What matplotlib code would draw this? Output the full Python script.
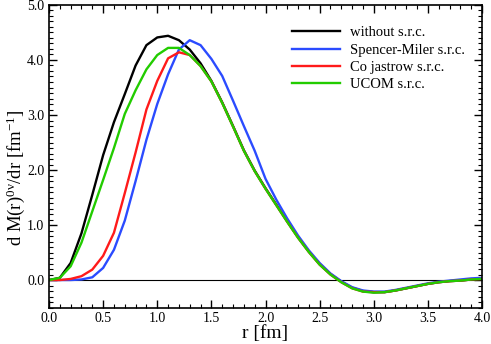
import matplotlib
matplotlib.use("Agg")
import matplotlib.pyplot as plt
from matplotlib.ticker import MultipleLocator, FormatStrFormatter

plt.rcParams['font.family'] = ['Liberation Serif', 'DejaVu Serif']
plt.rcParams['mathtext.fontset'] = 'custom'
plt.rcParams['mathtext.rm'] = 'Liberation Serif'
plt.rcParams['mathtext.it'] = 'Liberation Serif:italic'

r = [0.0, 0.1, 0.2, 0.3, 0.4, 0.5, 0.6, 0.7, 0.8, 0.9, 1.0,
     1.1, 1.2, 1.3, 1.4, 1.5, 1.6, 1.7, 1.8, 1.9, 2.0,
     2.1, 2.2, 2.3, 2.4, 2.5, 2.6, 2.7, 2.8, 2.9, 3.0,
     3.1, 3.2, 3.3, 3.4, 3.5, 3.6, 3.7, 3.8, 3.9, 4.0]

without_src = [0.0, 0.04, 0.31, 0.85, 1.55, 2.27, 2.87, 3.38, 3.90, 4.27, 4.41,
               4.44, 4.36, 4.19, 3.94, 3.62, 3.23, 2.80, 2.36, 1.99, 1.67,
               1.37, 1.07, 0.78, 0.52, 0.29, 0.11, -0.03, -0.14, -0.20, -0.22,
               -0.22, -0.19, -0.15, -0.11, -0.07, -0.04, -0.02, -0.01, 0.01, 0.02]

spencer_miler = [0.0, 0.0, 0.0, 0.01, 0.05, 0.22, 0.55, 1.08, 1.80, 2.55, 3.20,
                 3.74, 4.19, 4.36, 4.27, 4.02, 3.71, 3.26, 2.80, 2.35, 1.84,
                 1.46, 1.12, 0.81, 0.54, 0.31, 0.12, -0.02, -0.13, -0.19, -0.21,
                 -0.21, -0.18, -0.14, -0.10, -0.06, -0.03, -0.01, 0.01, 0.03, 0.04]

co_jastrow = [0.0, 0.0, 0.02, 0.07, 0.19, 0.44, 0.86, 1.58, 2.32, 3.10, 3.62,
              4.03, 4.14, 4.09, 3.89, 3.61, 3.22, 2.79, 2.35, 1.98, 1.66,
              1.36, 1.06, 0.77, 0.51, 0.28, 0.10, -0.04, -0.15, -0.21, -0.22,
              -0.22, -0.19, -0.15, -0.11, -0.07, -0.04, -0.02, -0.01, 0.01, 0.02]

ucom = [0.0, 0.04, 0.25, 0.68, 1.25, 1.82, 2.40, 3.02, 3.45, 3.83, 4.09,
        4.22, 4.22, 4.09, 3.89, 3.61, 3.22, 2.79, 2.35, 1.98, 1.66,
        1.36, 1.06, 0.77, 0.51, 0.28, 0.10, -0.04, -0.15, -0.21, -0.23,
        -0.22, -0.19, -0.15, -0.11, -0.07, -0.04, -0.02, -0.01, 0.01, 0.02]

labels = ["without s.r.c.", "Spencer-Miler s.r.c.", "Co jastrow s.r.c.", "UCOM s.r.c."]
colors = ["#000000", "#2b4bff", "#ff1a1a", "#22cc00"]

fig = plt.figure(figsize=(4.91, 3.44), dpi=100)
ax = fig.add_axes([0.0998, 0.106, 0.8819, 0.8795])

ax.axhline(0.0, color='black', lw=0.8, zorder=1)
series = [without_src, spencer_miler, co_jastrow, ucom]
for ys, c, lab in zip(series, colors, labels):
    ax.plot(r, ys, color=c, lw=1.7, label=lab, zorder=2)

ax.set_xlim(0.0, 4.0)
ax.set_ylim(-0.5, 5.0)
ax.xaxis.set_major_locator(MultipleLocator(0.5))
ax.xaxis.set_minor_locator(MultipleLocator(0.1))
ax.yaxis.set_major_locator(MultipleLocator(1.0))
ax.yaxis.set_minor_locator(MultipleLocator(0.1))
ax.xaxis.set_major_formatter(FormatStrFormatter('%.1f'))
ax.yaxis.set_major_formatter(FormatStrFormatter('%.1f'))
ax.tick_params(which='both', direction='in', top=True, right=True, labelsize=10)
ax.tick_params(which='major', length=6, width=1)
ax.tick_params(which='minor', length=3, width=0.8)
for s in ax.spines.values():
    s.set_linewidth(1.2)

ax.set_xlabel("r [fm]", fontsize=14, labelpad=0)
ax.set_ylabel(r"d M(r)$^{\mathregular{0\nu}}$/dr [fm$^{\mathregular{-1}}$]", fontsize=13.5)
ax.yaxis.set_label_coords(-0.05, 0.428)

leg = ax.legend(loc='upper left', bbox_to_anchor=(0.561, 0.93), frameon=False,
                fontsize=10.5, handlelength=3.3, handletextpad=0.7,
                labelspacing=0.28, borderaxespad=0.0, borderpad=0.0)

fig.savefig("out.png", dpi=100)
